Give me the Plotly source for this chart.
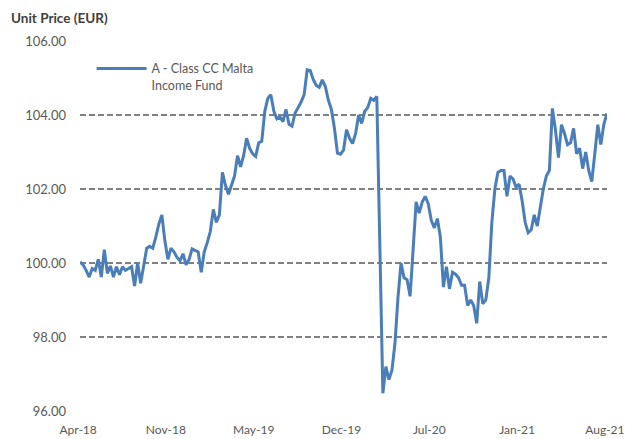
import pandas as pd
import plotly.graph_objects as go

# Weekly unit prices (EUR)
start_date = "2018-04-20"
prices = [
    100.03, 99.95, 99.80, 99.62, 99.85, 99.80, 100.10, 99.62, 100.36, 99.72,
    99.92, 99.62, 99.90, 99.68, 99.90, 99.80, 99.85, 99.90, 99.38, 100.00,
    99.45, 99.90, 100.40, 100.45, 100.40, 100.70, 101.05, 101.30, 100.60, 100.10,
    100.40, 100.30, 100.15, 100.06, 100.25, 99.95, 100.10, 100.38, 100.35, 100.30,
    99.75, 100.30, 100.55, 100.85, 101.45, 101.10, 101.30, 102.45, 102.10, 101.86,
    102.10, 102.35, 102.90, 102.60, 102.90, 103.37, 103.10, 102.95, 102.88, 103.25,
    103.29, 104.10, 104.45, 104.55, 104.10, 103.90, 103.95, 103.82, 104.15, 103.75,
    103.70, 104.05, 104.20, 104.35, 104.55, 105.22, 105.20, 104.96, 104.80, 104.75,
    104.95, 104.77, 104.40, 104.15, 103.65, 102.97, 102.94, 103.05, 103.60, 103.37,
    103.23, 103.50, 104.00, 103.77, 104.10, 104.20, 104.45, 104.40, 104.50, 100.90,
    96.48, 97.20, 96.85, 97.10, 97.83, 99.07, 100.00, 99.60, 99.55, 99.10,
    100.30, 101.65, 101.35, 101.65, 101.80, 101.60, 101.15, 100.95, 101.20, 100.70,
    99.35, 99.90, 99.30, 99.75, 99.70, 99.60, 99.40, 99.40, 98.85, 99.00,
    98.85, 98.37, 99.50, 98.90, 99.00, 99.60, 101.10, 102.00, 102.45, 102.50,
    102.50, 101.80, 102.35, 102.27, 102.05, 102.13, 101.68, 101.10, 100.82, 100.90,
    101.30, 101.00, 101.50, 102.00, 102.35, 102.50, 104.18, 103.60, 102.85, 103.74,
    103.50, 103.20, 103.25, 103.64, 102.95, 103.10, 102.55, 103.00, 102.50, 102.20,
    102.95, 103.74, 103.20, 103.75, 104.04,
]
dates = pd.date_range(start_date, periods=len(prices), freq="7D")

series_name = "A - Class CC Malta<br>Income Fund"
y_ticks = [96, 98, 100, 102, 104, 106]
x_ticks = pd.date_range(start_date, periods=7, freq="203D")
x_tick_text = [d.strftime("%b-%y") for d in x_ticks]

font_family = "Lato, 'Open Sans', Arial, sans-serif"
text_color = "#595959"

fig = go.Figure()
fig.add_trace(go.Scatter(
    x=dates, y=prices, mode="lines", name=series_name,
    line=dict(color="#4a7ebb", width=3), hoverinfo="skip",
))

pad = pd.Timedelta(hours=6)
fig.update_layout(
    width=625, height=439,
    margin=dict(l=80, r=18, t=41, b=28),
    paper_bgcolor="white", plot_bgcolor="white",
    font=dict(family=font_family, size=13, color=text_color),
    showlegend=True,
    legend=dict(
        x=0.022, y=0.965, xanchor="left", yanchor="top",
        bgcolor="rgba(0,0,0,0)", valign="top", itemwidth=50,
        font=dict(size=12.5, color=text_color),
        tracegroupgap=0,
    ),
    annotations=[dict(
        text="<b>Unit Price (EUR)</b>", xref="paper", yref="paper",
        x=-0.135, y=1.062, xanchor="left", yanchor="middle",
        showarrow=False, font=dict(size=13.5, color="#404040"),
    )],
)
fig.update_xaxes(
    range=[dates[0] - pad, dates[-1] + pad],
    tickvals=x_ticks, ticktext=x_tick_text,
    showgrid=False, zeroline=False, showline=False, ticks="",
    ticklabelstandoff=10, automargin=False, ticklabeloverflow="allow",
    ticklabelshift=-2, tickfont=dict(size=12),
)
fig.update_yaxes(
    range=[96, 106], tickvals=y_ticks,
    ticktext=[f"{v:.2f}" for v in y_ticks],
    showgrid=True, gridcolor="#808080", gridwidth=1.5, griddash="6px,3px",
    zeroline=False, showline=False, ticks="", ticklabelstandoff=13,
    automargin=False, tickfont=dict(size=13),
)

fig.write_html(
    "out.html",
    config={"displayModeBar": False},
    post_script="document.body.style.margin='0';",
)
